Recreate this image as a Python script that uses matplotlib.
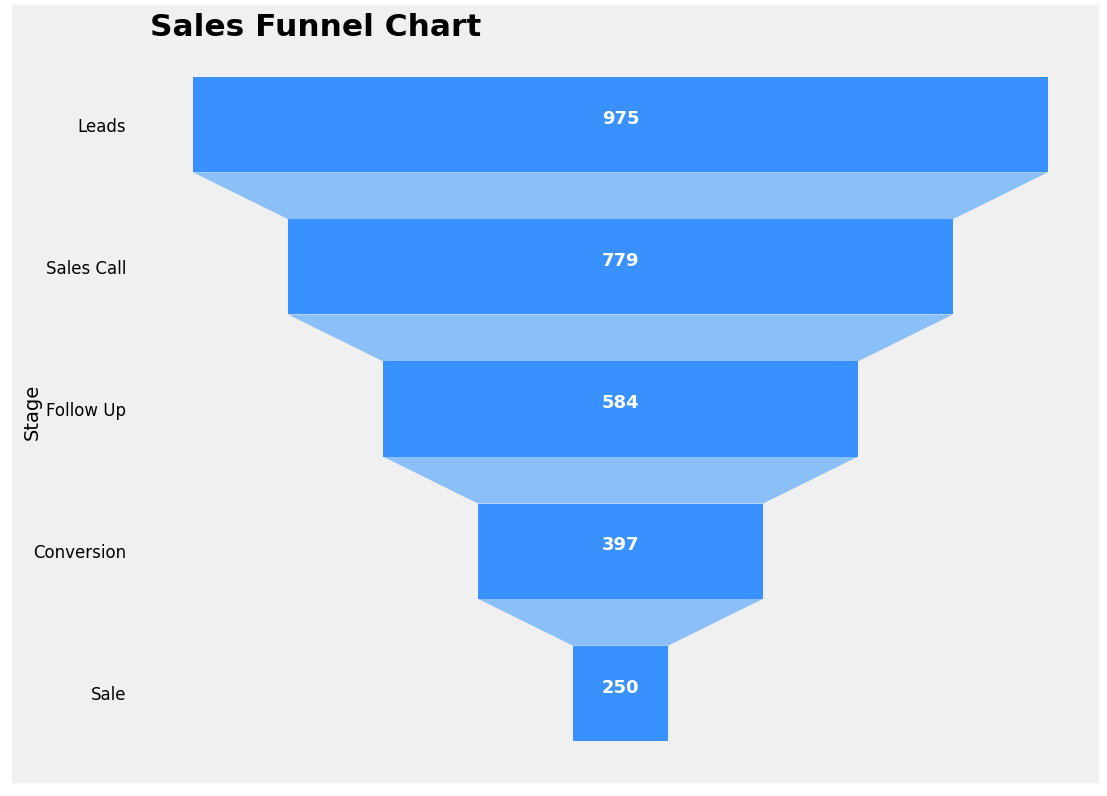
import matplotlib
matplotlib.use("Agg")
import matplotlib.pyplot as plt
from matplotlib.patches import Rectangle

stages = ["Leads", "Sales Call", "Follow Up", "Conversion", "Sale"]
values = [975, 779, 584, 397, 250]

W, H = 1107, 796
fig = plt.figure(figsize=(W/100, H/100), dpi=100, facecolor="white")
fig.patches.append(Rectangle((12/W, 1-782/H), (1098-12)/W, (782-5)/H,
                             transform=fig.transFigure, color="#f0f0f0", zorder=-10))
ax = fig.add_axes([193/W, 1-741/H, (1048-193)/W, (741-77)/H])
ax.set_zorder(1)
ax.set_facecolor("#f0f0f0")
bar_c, conn_c = "#3891ff", "#8bbff7"
h = 0.67
n = len(stages)
hws = [(2*(n-1-i)+1)/2 for i in range(n)]
for i, (s, v) in enumerate(zip(stages, values)):
    hw = hws[i]
    ax.barh(i, 2*hw, left=-hw, height=h, color=bar_c, zorder=2)
    ax.text(0, i-0.04, str(v), ha="center", va="center", color="white",
            fontsize=13, fontweight="bold", zorder=3)
    if i < n-1:
        y0, y1 = i+h/2, i+1-h/2
        hn = hws[i+1]
        ax.fill([-hw, hw, hn, -hn], [y0, y0, y1, y1], color=conn_c, lw=0, zorder=1)
ax.set_xlim(-hws[0], hws[0])
ax.set_ylim(n-1+h/2, -h/2)
ax.set_yticks(range(n))
ax.set_yticklabels(stages, fontsize=12)
ax.tick_params(axis="y", length=0, pad=48)
ax.set_xticks([])
for sp in ax.spines.values():
    sp.set_visible(False)
fig.text(32/W, 1-412/H, "Stage", rotation=90, ha="center", va="center", fontsize=14)
fig.text(150/W, 1-27/H, "Sales Funnel Chart", ha="left", va="center",
         fontsize=22.5, fontweight="bold")
fig.savefig("out.png", dpi=100, facecolor="white")
